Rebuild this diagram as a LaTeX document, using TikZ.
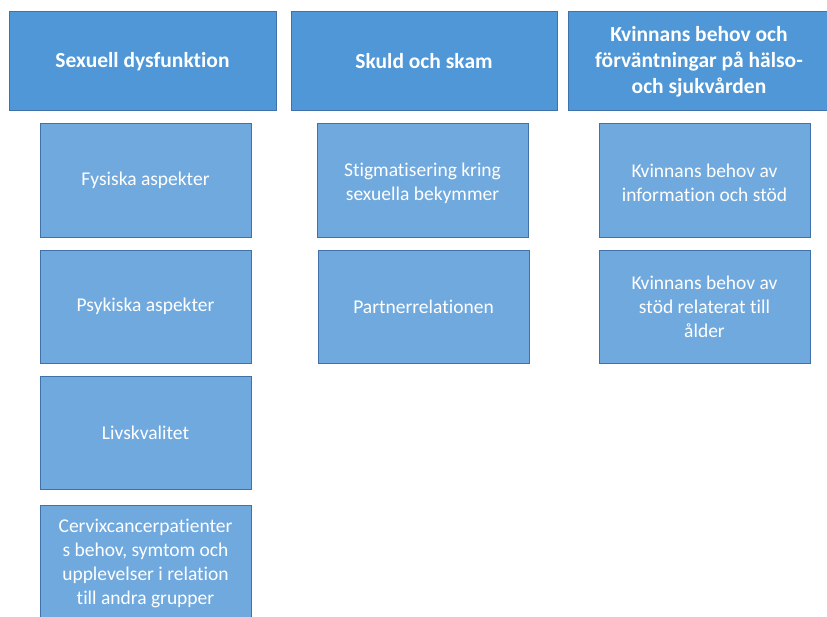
\documentclass[tikz,border=0pt]{standalone}
\usepackage{fontspec}
\setmainfont[RawFeature=-liga]{Carlito}
\definecolor{hdr}{RGB}{79,151,215}
\definecolor{sub}{RGB}{112,169,222}
\definecolor{edge}{RGB}{65,113,170}
\tikzset{
  hbox/.style={draw=edge, line width=1pt, fill=hdr, text=white, font=\fontsize{21.5}{26}\selectfont\bfseries, align=center, inner sep=0pt},
  sbox/.style={draw=edge, line width=0.8pt, fill=sub, text=white, font=\fontsize{19.5}{24}\selectfont, align=center, inner sep=0pt},
  stext/.style={text=white, font=\fontsize{19.5}{24}\selectfont, align=center, inner sep=0pt},
}
\begin{document}
\begin{tikzpicture}[x=1pt,y=-1pt]
\useasboundingbox (0,0) rectangle (827,617);
\fill[white] (0,0) rectangle (827,617);
% headers
\node[hbox, minimum width=267pt, minimum height=99pt] (h1) at (142.5,61.5) {Sexuell dysfunktion};
\node[hbox, minimum width=266pt, minimum height=99pt] (h2) at (424,61.5) {Skuld och skam};
\node[hbox, minimum width=262pt, minimum height=99pt] (h3) at (699,61.5) {Kvinnans behov och\\förväntningar på hälso-\\och sjukvården};
% column 1
\node[sbox, minimum width=211pt, minimum height=114pt] (a1) at (145.5,180) {Fysiska aspekter};
\node[sbox, minimum width=211pt, minimum height=113pt] (a2) at (145.5,306.5) {Psykiska aspekter};
\node[sbox, minimum width=211pt, minimum height=113pt] (a3) at (145.5,432.5) {Livskvalitet};
\node[sbox, minimum width=211pt, minimum height=116pt] (a4) at (145.5,563) {Cervixcancerpatienter\\s behov, symtom och\\upplevelser i relation\\till andra grupper};
% column 2
\node[sbox, minimum width=211pt, minimum height=114pt] (b1) at (422.5,180) {};
\node[stext] (b1t) at ([yshift=-3pt]b1.center) {Stigmatisering kring\\sexuella bekymmer};
\node[sbox, minimum width=211pt, minimum height=113pt] (b2) at (423.5,306.5) {Partnerrelationen};
% column 3
\node[sbox, minimum width=211pt, minimum height=114pt] (c1) at (704.5,180) {};
\node[stext] (c1t) at ([yshift=-3pt]c1.center) {Kvinnans behov av\\information och stöd};
\node[sbox, minimum width=211pt, minimum height=113pt] (c2) at (704.5,306.5) {Kvinnans behov av\\stöd relaterat till\\ålder};
\end{tikzpicture}
\end{document}
